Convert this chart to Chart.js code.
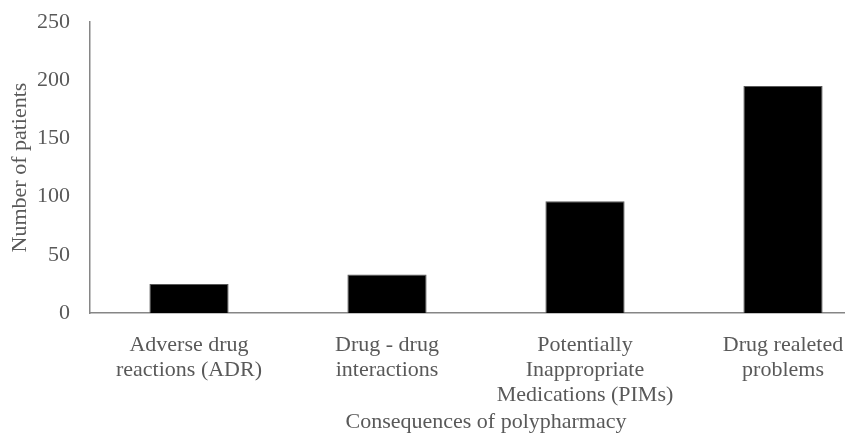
<!DOCTYPE html>
<html>
<head>
<meta charset="utf-8">
<script src="https://cdn.jsdelivr.net/npm/chart.js@4/dist/chart.umd.min.js"></script>
<style>
  html, body { margin: 0; padding: 0; background: #fff; overflow: hidden; }
  #wrap { width: 890px; height: 435px; }
</style>
</head>
<body>
<div id="wrap"><canvas id="c" width="890" height="435"></canvas></div>
<script>
// Consequences of polypharmacy – number of patients per category
const categories = [
  ["Adverse drug", "reactions (ADR)"],
  ["Drug - drug", "interactions"],
  ["Potentially", "Inappropriate", "Medications (PIMs)"],
  ["Drug realeted", "problems"]
];
const patients = [25, 33, 96, 195];
const yTicks = [0, 50, 100, 150, 200, 250];

const textGrey = '#595959';
const axisGrey = '#868686';
const serif = '"Liberation Serif", "Times New Roman", serif';

new Chart(document.getElementById('c'), {
  type: 'bar',
  data: {
    labels: categories,
    datasets: [{
      data: patients,
      backgroundColor: '#000000',
      borderColor: '#595959',
      borderWidth: 1,
      barPercentage: 0.4,
      categoryPercentage: 1.0
    }]
  },
  options: {
    responsive: false,
    animation: false,
    events: [],
    layout: { padding: { top: 22, right: 8, left: 0, bottom: 0 } },
    plugins: { legend: { display: false }, tooltip: { enabled: false } },
    scales: {
      x: {
        grid: { display: false, drawTicks: false },
        border: { display: true, color: axisGrey, width: 1.5 },
        ticks: {
          color: textGrey,
          font: { family: serif, size: 22, lineHeight: 1.14 },
          padding: 20,
          maxRotation: 0,
          autoSkip: false
        },
        title: {
          display: true,
          text: 'Consequences of polypharmacy',
          color: textGrey,
          font: { family: serif, size: 22 },
          padding: { top: 0, bottom: 0 }
        },
        afterFit: s => { s.height = 122; s.paddingLeft = 0; s.paddingRight = 0; }
      },
      y: {
        min: 0,
        max: 250,
        afterBuildTicks: s => { s.ticks = yTicks.map(v => ({ value: v })); },
        grid: { display: false, drawTicks: false },
        border: { display: true, color: axisGrey, width: 1.5 },
        ticks: {
          color: textGrey,
          font: { family: serif, size: 22 },
          padding: 20
        },
        title: {
          display: true,
          text: 'Number of patients',
          color: textGrey,
          font: { family: serif, size: 22 },
          padding: { top: 7, bottom: 0 }
        },
        afterFit: s => { s.width = 90; s.paddingTop = 0; s.paddingBottom = 0; }
      }
    }
  }
});
</script>
</body>
</html>
